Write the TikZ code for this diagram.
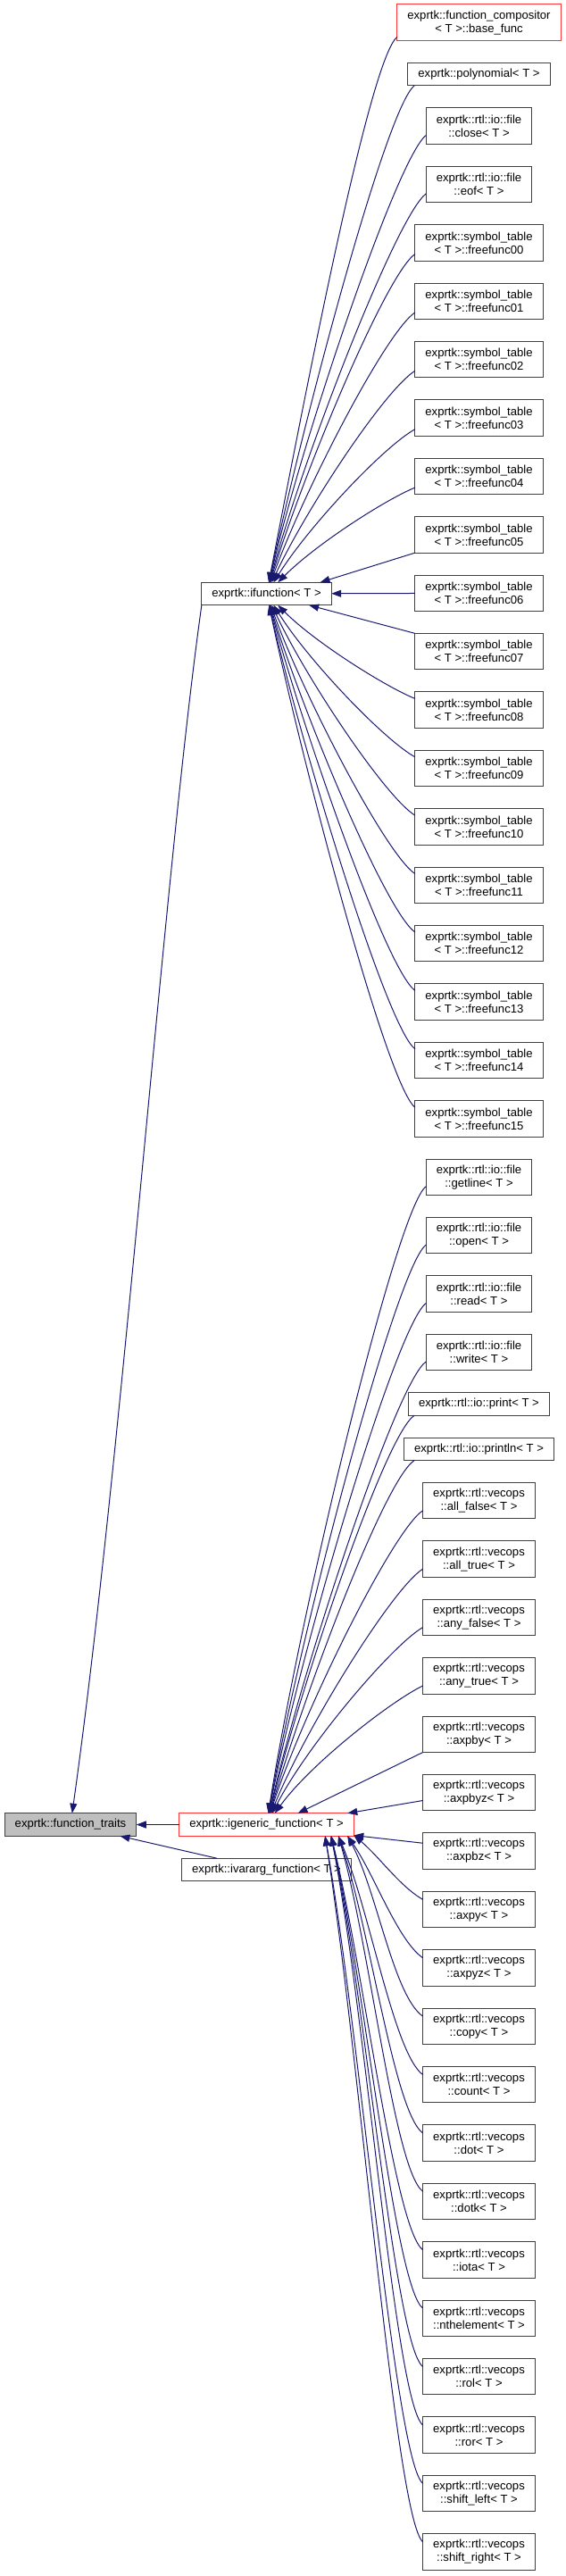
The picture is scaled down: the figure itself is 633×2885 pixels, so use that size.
\documentclass[tikz,border=0pt]{standalone}
\usepackage{xcolor}
\usepackage{fontspec}
\setmainfont{Liberation Sans}
\usepackage{tikz}
\usetikzlibrary{arrows.meta, positioning}

\definecolor{edgeblue}{HTML}{191970}
\definecolor{boxline}{HTML}{404040}
\definecolor{boxred}{HTML}{FF3333}
\definecolor{boxgrey}{HTML}{BFBFBF}

\begin{document}
\begin{tikzpicture}[
        x=1pt, y=1pt,
        node distance=24.9pt,
        font=\fontsize{13.1}{15}\selectfont,
        block/.style = {rectangle, draw=boxline, line width=1pt, fill=white, align=center, inner xsep=11.5pt, inner ysep=1pt, outer sep=0pt, minimum height=25.5pt},
        tall_block/.style = {block, minimum height=40.5pt},
        base_block/.style = {block, fill=boxgrey},
        line/.style = {draw=edgeblue, line width=1pt, -{Triangle[length=11pt, width=8pt]}}
    ]
    \useasboundingbox (0,0) rectangle (633,-2885);

    % Base and interfaces
    \node [base_block] (function_traits) at (79,-2043.5) {exprtk::function\_traits};
    \node [block, draw=boxred, right=48pt of function_traits] (igeneric) {exprtk::igeneric\_function< T >};
    \node [block, below=25pt of igeneric] (ivararg) {exprtk::ivararg\_function< T >};
    \node [block, above=1353pt of igeneric] (ifunction) {exprtk::ifunction< T >};

    % Derived from ifunction
    \node [tall_block, draw=boxred] (base_func) at (536.5,-25.25) {exprtk::function\_compositor\\< T >::base\_func};
    \node [block, below=of base_func] (polynomial) {exprtk::polynomial< T >};
    \node [tall_block, below=of polynomial] (file_close) {exprtk::rtl::io::file\\::close< T >};
    \node [tall_block, below=of file_close] (file_eof) {exprtk::rtl::io::file\\::eof< T >};
    \node [tall_block, below=of file_eof] (freefunc00) {exprtk::symbol\_table\\< T >::freefunc00};
    \node [tall_block, below=of freefunc00] (freefunc01) {exprtk::symbol\_table\\< T >::freefunc01};
    \node [tall_block, below=of freefunc01] (freefunc02) {exprtk::symbol\_table\\< T >::freefunc02};
    \node [tall_block, below=of freefunc02] (freefunc03) {exprtk::symbol\_table\\< T >::freefunc03};
    \node [tall_block, below=of freefunc03] (freefunc04) {exprtk::symbol\_table\\< T >::freefunc04};
    \node [tall_block, below=of freefunc04] (freefunc05) {exprtk::symbol\_table\\< T >::freefunc05};
    \node [tall_block, below=of freefunc05] (freefunc06) {exprtk::symbol\_table\\< T >::freefunc06};
    \node [tall_block, below=of freefunc06] (freefunc07) {exprtk::symbol\_table\\< T >::freefunc07};
    \node [tall_block, below=of freefunc07] (freefunc08) {exprtk::symbol\_table\\< T >::freefunc08};
    \node [tall_block, below=of freefunc08] (freefunc09) {exprtk::symbol\_table\\< T >::freefunc09};
    \node [tall_block, below=of freefunc09] (freefunc10) {exprtk::symbol\_table\\< T >::freefunc10};
    \node [tall_block, below=of freefunc10] (freefunc11) {exprtk::symbol\_table\\< T >::freefunc11};
    \node [tall_block, below=of freefunc11] (freefunc12) {exprtk::symbol\_table\\< T >::freefunc12};
    \node [tall_block, below=of freefunc12] (freefunc13) {exprtk::symbol\_table\\< T >::freefunc13};
    \node [tall_block, below=of freefunc13] (freefunc14) {exprtk::symbol\_table\\< T >::freefunc14};
    \node [tall_block, below=of freefunc14] (freefunc15) {exprtk::symbol\_table\\< T >::freefunc15};

    % Derived from igeneric_function
    \node [tall_block, below=of freefunc15] (file_getline) {exprtk::rtl::io::file\\::getline< T >};
    \node [tall_block, below=of file_getline] (file_open) {exprtk::rtl::io::file\\::open< T >};
    \node [tall_block, below=of file_open] (file_read) {exprtk::rtl::io::file\\::read< T >};
    \node [tall_block, below=of file_read] (file_write) {exprtk::rtl::io::file\\::write< T >};
    \node [block, below=of file_write] (io_print) {exprtk::rtl::io::print< T >};
    \node [block, below=of io_print] (io_println) {exprtk::rtl::io::println< T >};
    \node [tall_block, below=of io_println] (all_false) {exprtk::rtl::vecops\\::all\_false< T >};
    \node [tall_block, below=of all_false] (all_true) {exprtk::rtl::vecops\\::all\_true< T >};
    \node [tall_block, below=of all_true] (any_false) {exprtk::rtl::vecops\\::any\_false< T >};
    \node [tall_block, below=of any_false] (any_true) {exprtk::rtl::vecops\\::any\_true< T >};
    \node [tall_block, below=of any_true] (axpby) {exprtk::rtl::vecops\\::axpby< T >};
    \node [tall_block, below=of axpby] (axpbyz) {exprtk::rtl::vecops\\::axpbyz< T >};
    \node [tall_block, below=of axpbyz] (axpbz) {exprtk::rtl::vecops\\::axpbz< T >};
    \node [tall_block, below=of axpbz] (axpy) {exprtk::rtl::vecops\\::axpy< T >};
    \node [tall_block, below=of axpy] (axpyz) {exprtk::rtl::vecops\\::axpyz< T >};
    \node [tall_block, below=of axpyz] (vec_copy) {exprtk::rtl::vecops\\::copy< T >};
    \node [tall_block, below=of vec_copy] (vec_count) {exprtk::rtl::vecops\\::count< T >};
    \node [tall_block, below=of vec_count] (vec_dot) {exprtk::rtl::vecops\\::dot< T >};
    \node [tall_block, below=of vec_dot] (vec_dotk) {exprtk::rtl::vecops\\::dotk< T >};
    \node [tall_block, below=of vec_dotk] (vec_iota) {exprtk::rtl::vecops\\::iota< T >};
    \node [tall_block, below=of vec_iota] (nthelement) {exprtk::rtl::vecops\\::nthelement< T >};
    \node [tall_block, below=of nthelement] (vec_rol) {exprtk::rtl::vecops\\::rol< T >};
    \node [tall_block, below=of vec_rol] (vec_ror) {exprtk::rtl::vecops\\::ror< T >};
    \node [tall_block, below=of vec_ror] (shift_left) {exprtk::rtl::vecops\\::shift\_left< T >};
    \node [tall_block, below=of shift_left] (shift_right) {exprtk::rtl::vecops\\::shift\_right< T >};

    % Edges to function_traits
    \path [line] (ifunction.south west) .. controls +(262:300) and +(82:400) .. (function_traits.82);
    \path [line] (igeneric) -- (function_traits);
    \path [line] (ivararg) -- (function_traits);

    % Edges to ifunction
    \path [line] (base_func.190) .. controls +(218:40) and +(79:198) .. (ifunction.79);
    \path [line] (polynomial.190) .. controls +(218:40) and +(78:182) .. (ifunction.78);
    \path [line] (file_close.190) .. controls +(217:40) and +(77:165) .. (ifunction.77);
    \path [line] (file_eof.190) .. controls +(216:40) and +(75:146) .. (ifunction.75);
    \path [line] (freefunc00.190) .. controls +(215:40) and +(73:127) .. (ifunction.73);
    \path [line] (freefunc01.190) .. controls +(214:40) and +(70:108) .. (ifunction.70);
    \path [line] (freefunc02.190) .. controls +(212:40) and +(65:90) .. (ifunction.65);
    \path [line] (freefunc03.190) .. controls +(209:40) and +(58:74) .. (ifunction.58);
    \path [line] (freefunc04.190) .. controls +(202:35) and +(45:61) .. (ifunction.45);
    \path [line] (freefunc05.south west) -- (ifunction.12);
    \path [line] (freefunc06) -- (ifunction);
    \path [line] (freefunc07.north west) -- (ifunction.-15);
    \path [line] (freefunc08.170) .. controls +(158:35) and +(-45:60) .. (ifunction.-45);
    \path [line] (freefunc09.170) .. controls +(151:40) and +(-58:73) .. (ifunction.-58);
    \path [line] (freefunc10.170) .. controls +(148:40) and +(-65:89) .. (ifunction.-65);
    \path [line] (freefunc11.170) .. controls +(146:40) and +(-70:107) .. (ifunction.-70);
    \path [line] (freefunc12.170) .. controls +(145:40) and +(-73:125) .. (ifunction.-73);
    \path [line] (freefunc13.170) .. controls +(144:40) and +(-75:144) .. (ifunction.-75);
    \path [line] (freefunc14.170) .. controls +(143:40) and +(-77:163) .. (ifunction.-77);
    \path [line] (freefunc15.170) .. controls +(142:40) and +(-78:183) .. (ifunction.-78);

    % Edges to igeneric_function
    \path [line] (file_getline.190) .. controls +(215:40) and +(81:226) .. (igeneric.81);
    \path [line] (file_open.190) .. controls +(215:40) and +(80:206) .. (igeneric.80);
    \path [line] (file_read.190) .. controls +(215:40) and +(79:187) .. (igeneric.79);
    \path [line] (file_write.190) .. controls +(214:40) and +(77:167) .. (igeneric.77);
    \path [line] (io_print.190) .. controls +(214:40) and +(76:149) .. (igeneric.76);
    \path [line] (io_println.190) .. controls +(213:40) and +(74:135) .. (igeneric.74);
    \path [line] (all_false.190) .. controls +(213:40) and +(72:119) .. (igeneric.72);
    \path [line] (all_true.190) .. controls +(212:40) and +(68:101) .. (igeneric.68);
    \path [line] (any_false.190) .. controls +(210:40) and +(63:84) .. (igeneric.63);
    \path [line] (any_true.190) .. controls +(206:40) and +(54:69) .. (igeneric.54);
    \path [line] (axpby.south west) -- (igeneric.20);
    \path [line] (axpbyz.188) -- (igeneric.8);
    \path [line] (axpbz.172) -- (igeneric.-7);
    \path [line] (axpy.170) .. controls +(150:30) and +(-40:37) .. (igeneric.-7);
    \path [line] (axpyz.170) .. controls +(145:35) and +(-55:52) .. (igeneric.-8);
    \path [line] (vec_copy.170) .. controls +(145:40) and +(-62:70) .. (igeneric.-8);
    \path [line] (vec_count.170) .. controls +(144:40) and +(-67:89) .. (igeneric.-9);
    \path [line] (vec_dot.170) .. controls +(144:40) and +(-71:108) .. (igeneric.-9);
    \path [line] (vec_dotk.170) .. controls +(143:40) and +(-74:128) .. (igeneric.-9);
    \path [line] (vec_iota.170) .. controls +(143:40) and +(-76:148) .. (igeneric.-10);
    \path [line] (nthelement.170) .. controls +(142:40) and +(-77:168) .. (igeneric.-10);
    \path [line] (vec_rol.170) .. controls +(142:40) and +(-78:188) .. (igeneric.-10);
    \path [line] (vec_ror.170) .. controls +(141:40) and +(-79:209) .. (igeneric.-10);
    \path [line] (shift_left.170) .. controls +(141:40) and +(-80:229) .. (igeneric.-11);
    \path [line] (shift_right.170) .. controls +(140:40) and +(-81:249) .. (igeneric.-11);

\end{tikzpicture}
\end{document}
